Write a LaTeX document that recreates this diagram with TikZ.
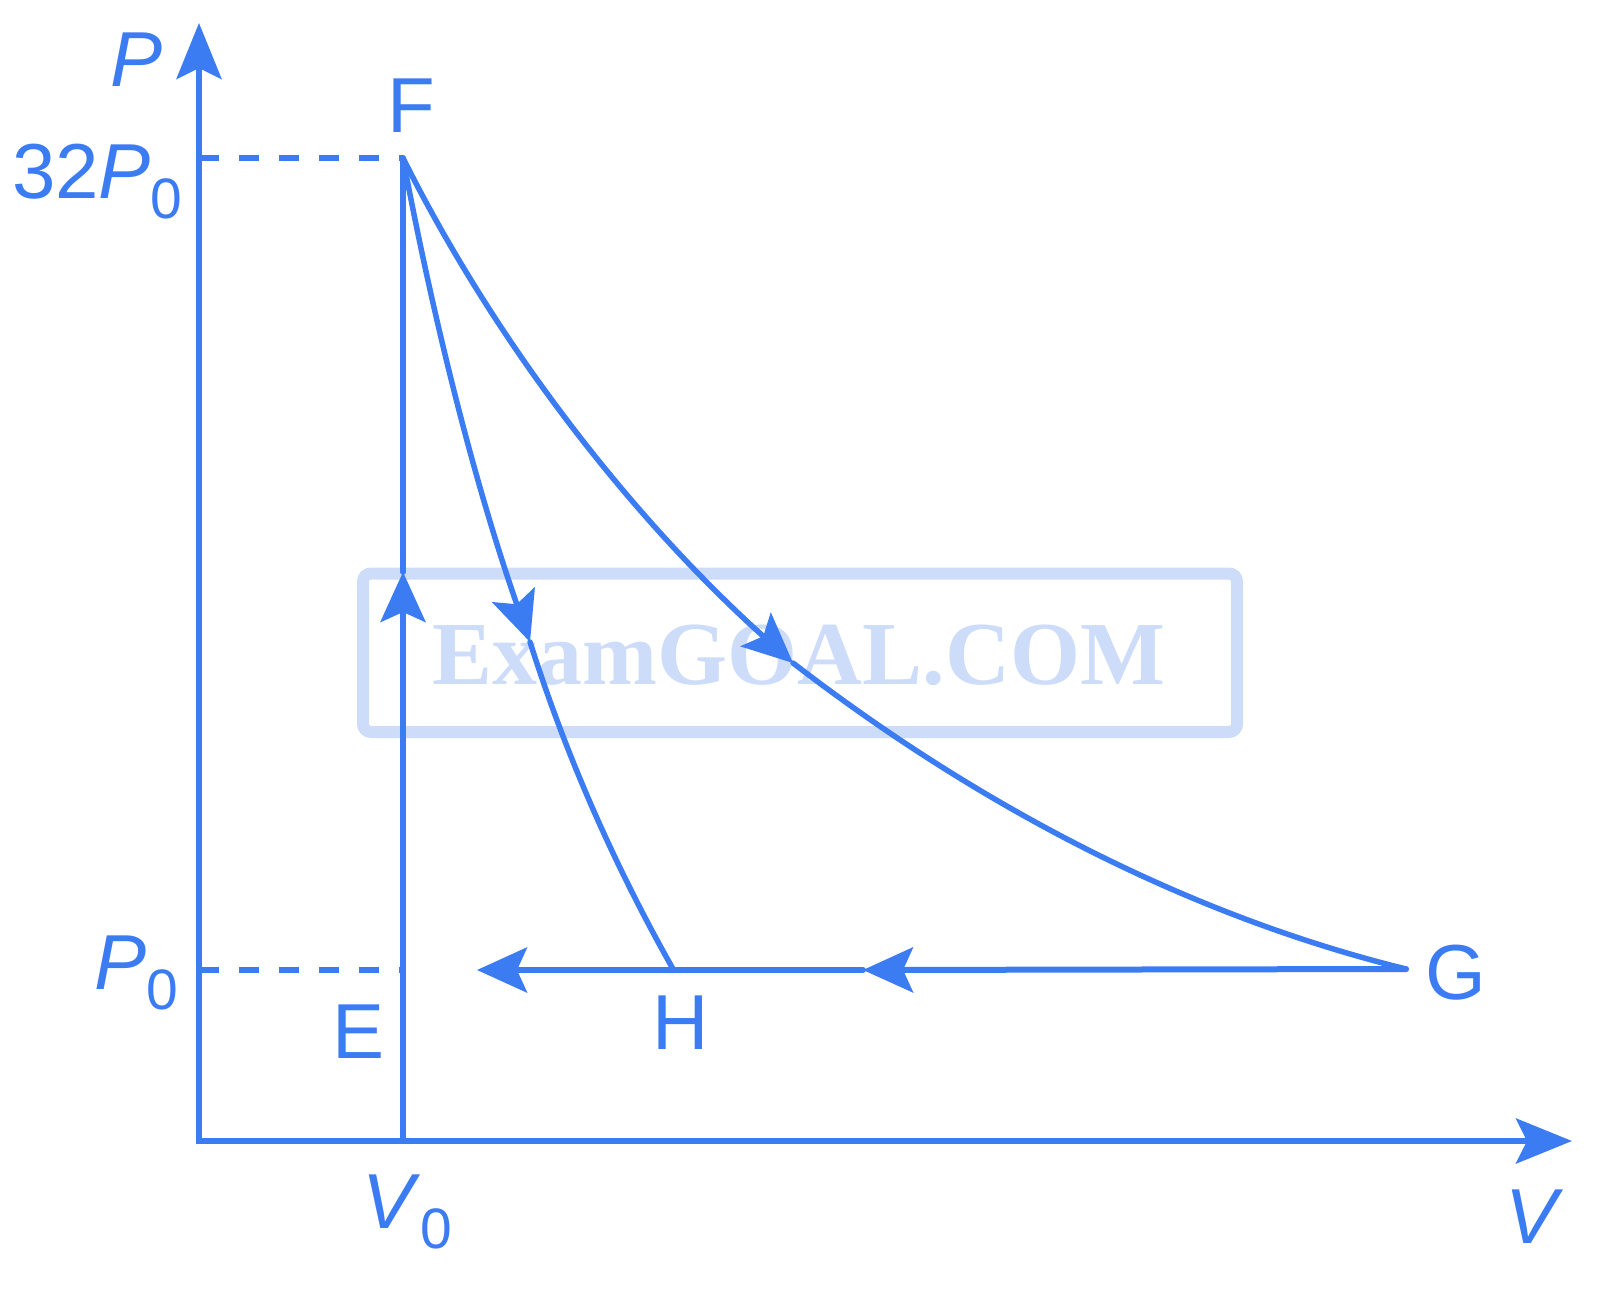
\documentclass[tikz,border=0pt]{standalone}
\usepackage{fontspec}
\setmainfont{Liberation Sans}
\newfontfamily\wmfont{Liberation Serif}
\usetikzlibrary{arrows.meta}
\definecolor{mainblue}{RGB}{59,124,243}
\definecolor{wmblue}{RGB}{205,220,248}
\begin{document}
\begin{tikzpicture}[x=1pt,y=-1pt,
  curve/.style={mainblue, line width=5.5pt, line cap=round, line join=round},
  straight/.style={mainblue, line width=6pt, line cap=round, line join=round},
  tip/.style={-{Stealth[length=50pt,width=45pt,inset=10pt]}},
  axistips/.style={{Stealth[length=56pt,width=45pt,inset=11pt]}-{Stealth[length=56pt,width=45pt,inset=11pt]}},
  lbl/.style={text=mainblue, inner sep=0pt, anchor=base west, font=\fontsize{78}{90}\selectfont},
  dashline/.style={mainblue, line width=6pt, dash pattern=on 20pt off 20pt},
  wmbox/.style={wmblue, line width=12pt, rounded corners=8pt},
  wmtext/.style={text=wmblue, inner sep=0pt, anchor=base, font=\wmfont\bfseries\fontsize{90}{100}\selectfont},
]
\useasboundingbox (0,0) rectangle (1600,1306);

% watermark
\draw[wmbox] (363,573.5) rectangle (1237,732);
\node[wmtext] (wm) at (799,684) {ExamGOAL.COM};

% key points
\coordinate (O) at (199,1141);
\coordinate (Ptip) at (199,23);
\coordinate (Vtip) at (1572,1141);
\coordinate (V0) at (403,1141);
\coordinate (F) at (403,158);
\coordinate (E) at (403,970);
\coordinate (EFtip) at (403,572);
\coordinate (G) at (1406,969);
\coordinate (H) at (673,969);
\coordinate (GHtip) at (863,970);
\coordinate (Ltip) at (477,970);
\coordinate (FHtip) at (530,642);
\coordinate (FGtip) at (793,663);
\coordinate (Pa) at (199,158);
\coordinate (Pb) at (199,970);

% axes
\draw[straight, line cap=butt, line join=miter, axistips] (Ptip) -- (O) -- (Vtip);

% dashed guides
\draw[dashline] (Pa) -- (F);
\draw[dashline] (Pb) -- (E);

% E-F vertical
\draw[straight, tip] (V0) -- (EFtip);
\draw[straight] (EFtip) -- (F);

% G -> H -> left
\draw[straight, tip] (G) -- (GHtip);
\draw[straight, tip] (GHtip) -- (Ltip);

% F -> H adiabatic
\draw[curve, tip] (F) .. controls (433,318) and (474,482) .. (FHtip);
\draw[curve] (FHtip) .. controls (565,752) and (611,859) .. (H);

% F -> G isothermal
\draw[curve, tip] (F) .. controls (498,348) and (635,521) .. (FGtip);
\draw[curve] (FGtip) .. controls (975,803) and (1183,914) .. (G);

% labels
\node[lbl] (Plbl) at (110,86) {\itshape P};
\node[lbl] (Vlbl) at (1505,1243) {\itshape V};
\node[lbl] (Flbl) at (387,132) {F};
\node[lbl] (Elbl) at (332,1058) {E};
\node[lbl] (Hlbl) at (652,1049) {H};
\node[lbl] (Glbl) at (1425,999) {G};
\node[lbl] (P32) at (12,198) {32\textit{P}\raisebox{-20pt}{\fontsize{57}{60}\selectfont 0}};
\node[lbl] (P0lbl) at (94,989) {\textit{P}\raisebox{-20pt}{\fontsize{57}{60}\selectfont 0}};
\node[lbl] (V0lbl) at (362,1228) {\textit{V}\raisebox{-20pt}{\fontsize{57}{60}\selectfont 0}};
\end{tikzpicture}
\end{document}
